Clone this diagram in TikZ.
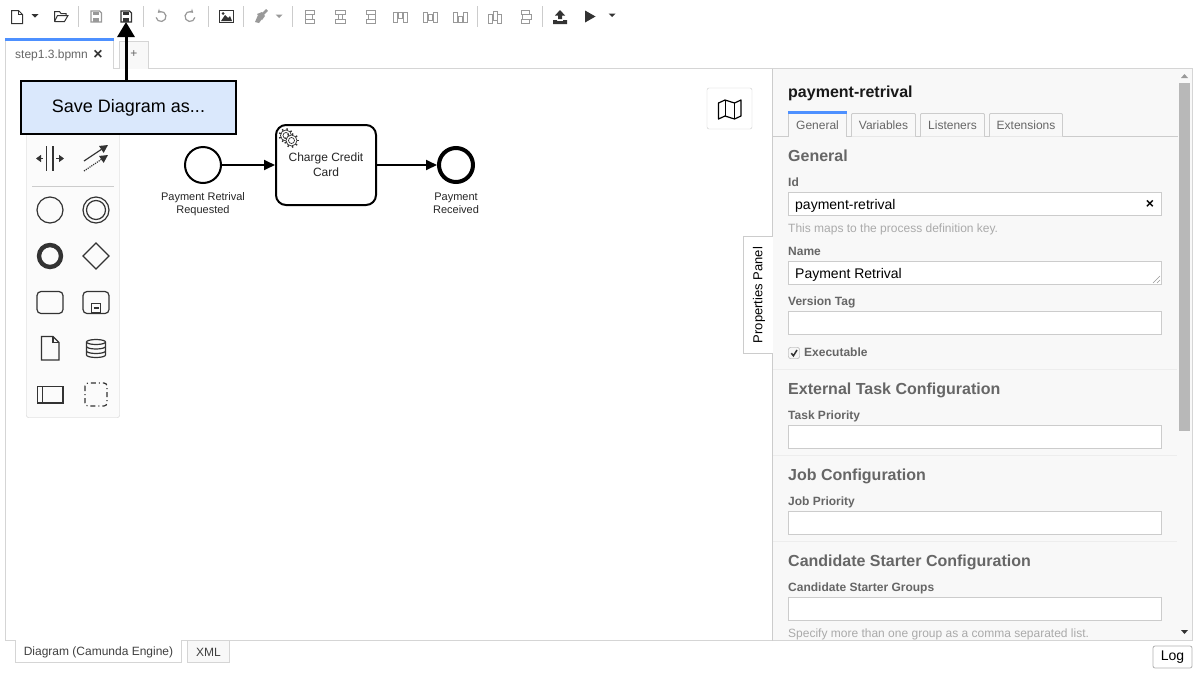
\documentclass[tikz,border=0pt]{standalone}
\usepackage{fontspec}
\setmainfont{Liberation Sans}
\usetikzlibrary{arrows.meta}
\definecolor{tabline}{HTML}{CCCCCC}
\definecolor{softline}{HTML}{EDEDED}
\definecolor{iconoff}{HTML}{999999}
\definecolor{icondark}{HTML}{333333}
\definecolor{headgray}{HTML}{666666}
\definecolor{hintgray}{HTML}{AAAAAA}
\definecolor{panelbg}{HTML}{F8F8F8}
\definecolor{tabblue}{HTML}{4D90FF}
\definecolor{calloutblue}{HTML}{DAE8FC}
\tikzset{
  txt/.style = {inner sep=0pt, font=\fontsize{#1}{#1}\selectfont},
  txt/.default = 12,
  twoline/.style = {inner sep=0pt, align=center, text=black!85, font=\fontsize{11}{13}\selectfont},
  flowline/.style = {draw=black, line width=1.8pt, -{Triangle[length=11,width=10]}},
  bpmnevent/.style = {circle, draw=black, fill=white, minimum size=36, inner sep=0pt},
  callout/.style = {rectangle, draw=black, line width=2pt, fill=calloutblue,
    minimum width=215, minimum height=53, txt=18},
  heading/.style = {anchor=base west, inner sep=0pt, text=headgray,
    font=\fontsize{16}{16}\selectfont\bfseries},
  fieldlabel/.style = {anchor=base west, inner sep=0pt, text=headgray,
    font=\fontsize{12}{12}\selectfont\bfseries},
  fieldhint/.style = {anchor=base west, inner sep=0pt, text=hintgray,
    font=\fontsize{12}{12}\selectfont},
  fieldtext/.style = {anchor=base west, inner sep=0pt, font=\fontsize{14}{14}\selectfont},
  inputbox/.style = {rectangle, draw=tabline, fill=white, minimum width=373, minimum height=23,
    inner sep=0pt, line width=1pt},
  ptab/.style = {txt=12, text=headgray},
  tabshape/.style = {draw=tabline, fill=white, line width=0.8pt},
  divider/.style = {draw=softline, line width=1pt},
  off/.style = {draw=iconoff, line width=1pt},
  dark/.style = {draw=icondark, line width=1pt},
  pal/.style = {draw=icondark, line width=1.2pt}
}
% toolbar bits
\newcommand{\caret}[2]{\fill[icondark] (#1-3.5,#2-1.5) -- (#1+3.5,#2-1.5) -- (#1,#2+2) -- cycle;}
\newcommand{\floppy}[3]{
	\begin{scope}[shift={(#1,#2)}]
		\draw[#3, line width=1.2pt] (-5,-5.5) -- (3.5,-5.5) -- (5.5,-3.5) -- (5.5,5.5) -- (-5,5.5) -- cycle;
		\fill[#3!100] (-3,-5) rectangle (3,-1.5);
		\fill[#3!100] (-3,1.5) rectangle (3,5);
	\end{scope}}
\newcommand{\gearicon}[3]{
	\draw[icondark, line width=0.7pt, fill=white] (#1,#2) circle (#3);
	\draw[icondark, line width=0.7pt] (#1,#2) circle (#3*0.55);
	\foreach \ang in {0,40,...,320}
		\draw[icondark, line width=1.4pt] (#1,#2) ++(\ang:#3) -- ++(\ang:1.8);}
\begin{document}
\begin{tikzpicture}[x=1pt, y=-1pt]
	\useasboundingbox (0,0) rectangle (1198,675);
	\fill[white] (0,0) rectangle (1198,675);

	% editor frame
	\draw[draw=softline!90!black, line width=1pt] (5.5,68.5) rectangle (1192.5,640.5);

	% file tabs
	\draw[tabshape, draw=softline!90!black] (5.5,68.5) -- (5.5,39) -- (113.5,39) -- (113.5,68.5);
	\fill[white] (6,60) rectangle (113,69);
	\fill[tabblue] (5,38) rectangle (114,41);
	\node[txt=12, text=headgray, anchor=base west] (filetab) at (15,58) {step1.3.bpmn};
	\node[inner sep=0pt, text=icondark, font=\fontsize{16}{16}\selectfont\bfseries] (fileclose) at (98,54.5) {×};
	\draw[tabshape, draw=softline!90!black, fill=panelbg] (119.5,68.5) -- (119.5,41.5) -- (148.5,41.5) -- (148.5,68.5);
	\node[txt=12, text=headgray] (fileplus) at (134,54.5) {+};

	% toolbar
	\foreach \sepx in {78.5,143.5,208.5,243.5,292.5,477.5,542.5}
		\draw[draw=tabline] (\sepx,6) -- (\sepx,27);
	\draw[dark] (11.5,10.5) -- (18.5,10.5) -- (22.5,14.5) -- (22.5,23.5) -- (11.5,23.5) -- cycle;
	\draw[dark] (18.5,10.5) -- (18.5,14.5) -- (22.5,14.5);
	\caret{35}{15.5}
	\draw[dark] (54.5,21.5) -- (54.5,11.5) -- (59.5,11.5) -- (61,13.5) -- (66,13.5) -- (66,15.5);
	\draw[dark] (54.5,21.5) -- (64.5,21.5) -- (68,15.5) -- (57.5,15.5) -- (54.5,21.5);
	\floppy{96}{16.5}{iconoff}
	\floppy{126}{16.5}{icondark}
	\coordinate (saveicon) at (126,22);
	\draw[off, line width=1.2pt, -{Stealth[length=3.5,width=4.5]}] (161,16.5) ++(170:5) arc[start angle=170, end angle=-130, radius=5];
	\draw[off, line width=1.2pt, -{Stealth[length=3.5,width=4.5]}] (190,16.5) ++(10:5) arc[start angle=10, end angle=310, radius=5];
	\draw[dark, line width=1.3pt] (219.5,10.5) rectangle (233.5,22.5);
	\fill[icondark] (221,21) -- (225,15) -- (228,18) -- (230,16) -- (232,21) -- cycle;
	\fill[icondark] (223,13.5) circle (1.5);
	\fill[iconoff] (255,22) -- (258,15) -- (262,19) -- (259,23) -- cycle;
	\draw[iconoff, line width=2.6pt] (261,16) -- (267,10);
	\fill[iconoff] (257,14) -- (262,12) -- (265,16) -- (262,20) -- cycle;
	\fill[iconoff] (275.5,14.5) -- (282.5,14.5) -- (279,18) -- cycle;
	% align row, one bar triple per icon
	\foreach \bx/\ma/\mb/\oa/\ob in {310/-5/2/-5/4, 340/-2/2/-5/5, 370/-2/5/-4/5}{
		\draw[off] (\bx+\oa,10.5) rectangle (\bx+\ob,14);
		\draw[off] (\bx+\ma,14) rectangle (\bx+\mb,19.5);
		\draw[off] (\bx+\oa,19.5) rectangle (\bx+\ob,23.5);
	}
	\foreach \bx/\sa/\sb/\ta/\tb in {400/12.5/18.5/12.5/22.5, 430/14.5/20.5/12.5/22.5, 460/16.5/22.5/12.5/22.5}{
		\draw[off] (\bx-7,\ta) rectangle (\bx-3,\tb);
		\draw[off] (\bx-2,\sa) rectangle (\bx+2,\sb);
		\draw[off] (\bx+3,\ta) rectangle (\bx+7,\tb);
	}
	\draw[off] (488.5,14) rectangle (492.5,23);
	\draw[off] (493,11) rectangle (497,20);
	\draw[off] (497.5,14) rectangle (501.5,23);
	\draw[off] (521,10.5) rectangle (529.5,14);
	\draw[off] (522,14) rectangle (531,19);
	\draw[off] (521,19) rectangle (529.5,23);
	\fill[icondark] (560,10) -- (565,15.5) -- (562,15.5) -- (562,19) -- (558,19) -- (558,15.5) -- (555,15.5) -- cycle;
	\fill[icondark] (553,20) -- (557,20) -- (557,21) -- (563,21) -- (563,20) -- (567,20) -- (567,24) -- (553,24) -- cycle;
	\fill[icondark] (585,10.5) -- (595.5,16.5) -- (585,22.5) -- cycle;
	\caret{612}{15}

	% palette
	\draw[draw=tabline, fill=panelbg!60!white, rounded corners=2pt] (26.5,130) rectangle (119.5,417.5);
	\draw[draw=tabline] (32,186.5) -- (114,186.5);
	\draw[pal] (46.5,146) -- (46.5,171);
	\draw[pal] (53,146) -- (53,171);
	\draw[pal, -{Triangle[length=5,width=7]}] (43,158.5) -- (36,158.5);
	\draw[pal, -{Triangle[length=5,width=7]}] (56,158.5) -- (64,158.5);
	\draw[pal, -{Triangle[length=8,width=8]}] (84,161) -- (108,145);
	\draw[pal, densely dotted, -{Triangle[length=8,width=8]}] (84,171) -- (108,155);
	\draw[pal] (50,210) circle (13);
	\draw[pal] (96,210) circle (13);
	\draw[pal] (96,210) circle (9.5);
	\draw[pal, line width=4.4pt] (50,256) circle (11);
	\draw[pal] (96,243) -- (109,256) -- (96,269) -- (83,256) -- cycle;
	\draw[pal, rounded corners=4pt] (37,291.5) rectangle (63,313.5);
	\draw[pal, rounded corners=4pt] (83,291.5) rectangle (109,313.5);
	\draw[pal] (91.5,303.5) rectangle (100.5,313);
	\draw[pal] (93.5,308) -- (98.5,308);
	\draw[pal] (41.5,336.5) -- (53,336.5) -- (59,342.5) -- (59,360) -- (41.5,360) -- cycle;
	\draw[pal] (53,336.5) -- (53,342.5) -- (59,342.5);
	\draw[pal] (86.5,342) arc[start angle=180, end angle=0, x radius=9.5, y radius=-2.5]
		-- (105.5,355) arc[start angle=0, end angle=180, x radius=9.5, y radius=2.5] -- cycle;
	\draw[pal] (86.5,342) arc[start angle=180, end angle=360, x radius=9.5, y radius=-2.5];
	\draw[pal] (86.5,346.5) arc[start angle=180, end angle=360, x radius=9.5, y radius=-2.5];
	\draw[pal] (86.5,351) arc[start angle=180, end angle=360, x radius=9.5, y radius=-2.5];
	\draw[pal] (37.5,386.5) rectangle (63,403);
	\draw[pal] (42.5,386.5) -- (42.5,403);
	\draw[pal, dash pattern=on 5pt off 3pt on 1pt off 3pt, rounded corners=3pt] (85,383) rectangle (107,406);

	% process
	\node[bpmnevent, line width=2pt] (start) at (203,165) {};
	\node[rectangle, draw=black, fill=white, line width=2pt, rounded corners=10pt,
		minimum width=100, minimum height=80, inner sep=0pt] (task) at (326,165) {};
	\node[inner sep=0pt, align=center, text=black!85, font=\fontsize{12}{15}\selectfont] (tasktext) at (326,164.5) {Charge Credit\\Card};
	\node[bpmnevent, line width=4pt, minimum size=34] (endevent) at (456,165) {};
	\gearicon{286}{135.5}{5.5}
	\gearicon{291.5}{140.5}{5.5}
	\draw[flowline] (start) -- (task);
	\draw[flowline] (task) -- (endevent);
	\node[twoline] (startlabel) at (203,204) {Payment Retrival\\Requested};
	\node[twoline] (endlabel) at (456,203.5) {Payment\\Received};

	% callout on top of everything at the left
	\node[callout] (savecallout) at (128.5,107.5) {\raisebox{-1pt}{Save Diagram as...}};
	\draw[line width=3pt, -{Triangle[length=15,width=17]}] (savecallout.north -| saveicon) -- (saveicon);

	% minimap button
	\node[rectangle, draw=tabline, fill=white, rounded corners=2pt, minimum width=45, minimum height=41, inner sep=0pt] (mapbtn) at (729.5,108.5) {};
	\draw[draw=black, line width=1.2pt, line join=round] (718.5,103) -- (725,100) -- (734.5,103) -- (741,100) -- (741,116) -- (734.5,119) -- (725,116) -- (718.5,119) -- cycle;
	\draw[draw=black, line width=1pt] (725,100) -- (725,116);
	\draw[draw=black, line width=1pt] (734.5,103) -- (734.5,119);

	% properties panel
	\fill[panelbg] (772,68.5) rectangle (1192,640);
	\draw[draw=tabline, line width=1pt] (772.5,68.5) -- (772.5,640.5);
	\draw[draw=softline!90!black] (772.5,68.5) -- (1192.5,68.5) -- (1192.5,640.5);
	\fill[iconoff!70!white] (1179,83) rectangle (1190,431);
	\fill[iconoff] (1181,78) -- (1188,78) -- (1184.5,74) -- cycle;
	\fill[icondark] (1181,630) -- (1188,630) -- (1184.5,634) -- cycle;
	\draw[fill=white, draw=tabline] (772.5,236.5) -- (743.5,236.5) -- (743.5,353.5) -- (772.5,353.5);
	\node[txt=13, rotate=90] (propstab) at (759,295) {Properties Panel};

	\node[anchor=base west, inner sep=0pt, font=\fontsize{16}{16}\selectfont\bfseries, text=black!90] (paneltitle) at (788,97) {payment-retrival};

	\draw[draw=tabline] (772.5,136.5) -- (1177.5,136.5);
	\foreach \tx/\ty/\tw/\tname/\tid in {851/113/915/Variables/tabvar, 920/113/984/Listeners/tablis, 989/113/1062/Extensions/tabext}{
		\draw[tabshape, fill=panelbg, rounded corners=1pt] (\tx.5,136.5) -- (\tx.5,\ty.5) -- (\tw.5,\ty.5) -- (\tw.5,136.5);
		\node[ptab] (\tid) at ({(\tx+\tw)/2+0.5},125) {\tname};
	}
	\fill[panelbg] (788.5,114) rectangle (846.5,137.5);
	\draw[tabshape] (788.5,137) -- (788.5,114) (846.5,114) -- (846.5,137);
	\fill[panelbg] (789,114) rectangle (846,137.5);
	\fill[tabblue] (788,111) rectangle (847,114);
	\node[ptab] (tabgen) at (817.5,125) {General};

	\node[heading] (hgeneral) at (788,161.5) {General};
	\node[fieldlabel] (lid) at (788,186) {Id};
	\node[inputbox] (boxid) at (975,204) {};
	\node[fieldtext] (tid) at (795,209) {payment-retrival};
	\node[font=\fontsize{14}{14}\selectfont\bfseries, inner sep=0pt] (clearid) at (1150,204) {×};
	\node[fieldhint] (hintid) at (788,232) {This maps to the process definition key.};
	\node[fieldlabel] (lname) at (788,255) {Name};
	\node[inputbox] (boxname) at (975,273) {};
	\node[fieldtext] (tname) at (795,278) {Payment Retrival};
	\draw[draw=iconoff, line width=0.6pt] (1153,283) -- (1160,276) (1157,283) -- (1160,280);
	\node[fieldlabel] (lversion) at (788,305) {Version Tag};
	\node[inputbox] (boxversion) at (975,323) {};
	\node[rectangle, draw=iconoff, fill=panelbg!80!softline, rounded corners=2pt, minimum size=11, inner sep=0pt] (exbox) at (794,353) {};
	\draw[draw=icondark, line width=1.5pt] (791.3,353.2) -- (793.4,355.8) -- (797,350);
	\node[fieldlabel] (lexec) at (804,356) {Executable};
	\draw[divider] (773,369.5) -- (1177,369.5);

	\node[heading] (hexternal) at (788,394.5) {External Task Configuration};
	\node[fieldlabel] (ltask) at (788,419) {Task Priority};
	\node[inputbox] (boxtask) at (975,437) {};
	\draw[divider] (773,455.5) -- (1177,455.5);

	\node[heading] (hjob) at (788,480.5) {Job Configuration};
	\node[fieldlabel] (ljob) at (788,505) {Job Priority};
	\node[inputbox] (boxjob) at (975,523) {};
	\draw[divider] (773,541.5) -- (1177,541.5);

	\node[heading] (hstarter) at (788,566.5) {Candidate Starter Configuration};
	\node[fieldlabel] (lgroups) at (788,591) {Candidate Starter Groups};
	\node[inputbox] (boxgroups) at (975,609) {};
	\node[fieldhint] (hintgroups) at (788,637) {Specify more than one group as a comma separated list.};

	% bottom bar
	\draw[tabshape, draw=softline!90!black] (15.5,641) -- (15.5,662.5) -- (181.5,662.5) -- (181.5,641);
	\fill[white] (16,640) rectangle (181,642);
	\node[txt=12, text=black!75] (diagramtab) at (98.5,652.5) {Diagram (Camunda Engine)};
	\draw[tabshape, draw=softline!90!black, fill=panelbg] (187.5,641) -- (187.5,662.5) -- (229.5,662.5) -- (229.5,641);
	\node[txt=12, text=black!75] (xmltab) at (208.5,652.5) {XML};
	\node[rectangle, draw=iconoff!50!tabline, fill=white, rounded corners=2pt, minimum width=39, minimum height=22, inner sep=0pt, line width=0.8pt] (logbtn) at (1172.5,657) {};
	\node[txt=14] (logtext) at (1172.5,657.5) {Log};
\end{tikzpicture}
\end{document}
